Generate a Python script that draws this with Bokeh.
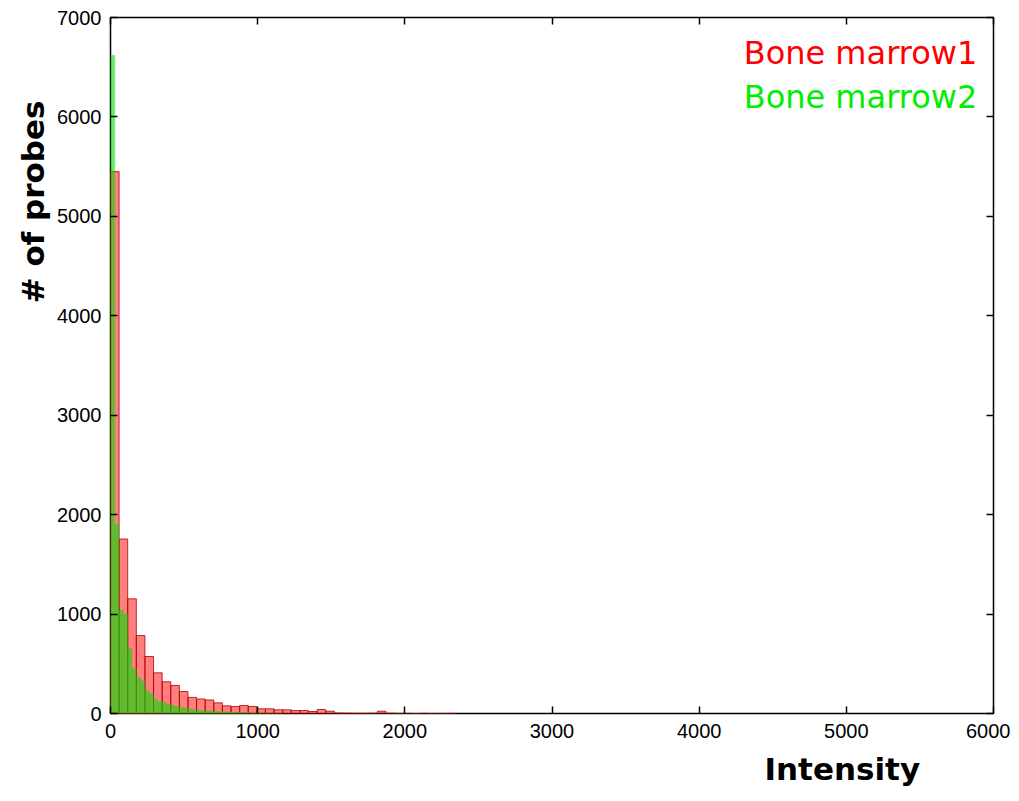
import numpy as np
from bokeh.plotting import figure
from bokeh.models import Range1d, LinearAxis, FixedTicker, Label, ColumnDataSource, Title
from bokeh.embed import file_html
from bokeh.resources import INLINE

# ---- data (histogram counts) ----
bm1_bin_width = 58.5
bm1_counts = [5450, 1755, 1153, 784, 573, 409, 319, 282, 221, 162,
              146, 136, 107, 77, 70, 80, 70, 47, 47, 37,
              37, 30, 30, 20, 40, 23, 5, 3, 2, 2,
              3, 23, 3, 1, 1, 0, 1, 0, 0, 1]

bm2_bin_width = 29.25
bm2_counts = [6620, 1900, 1040, 1000, 650, 450, 365, 330, 230, 200,
              140, 120, 110, 90, 80, 70, 60, 55, 45, 40,
              35, 30, 28, 25, 22, 20, 18, 16, 14, 12,
              10, 9, 8, 7, 6, 5, 4, 3, 2, 2]

x_ticks = [0, 1000, 2000, 3000, 4000, 5000, 6000]
y_ticks = [0, 1000, 2000, 3000, 4000, 5000, 6000, 7000]
series_names = ["Bone marrow1", "Bone marrow2"]
x_title = "Intensity"
y_title = "# of probes"


def hist_source(counts, width):
    c = np.array(counts, dtype=float)
    left = np.arange(len(c)) * width
    return ColumnDataSource(dict(left=left, right=left + width, top=c, bottom=np.zeros_like(c)))


p = figure(width=1010, height=795, output_backend="svg", toolbar_location=None,
           x_range=Range1d(0, 6000), y_range=Range1d(0, 7000),
           min_border_left=110, min_border_right=17, min_border_top=17, min_border_bottom=82)
p.background_fill_color = "white"
p.border_fill_color = "white"
p.grid.visible = False
p.outline_line_color = "black"
p.outline_line_width = 1.5

p.quad(left="left", right="right", top="top", bottom="bottom", source=hist_source(bm1_counts, bm1_bin_width),
       fill_color="#ff0000", fill_alpha=0.5, line_color="#b00000", line_alpha=0.8, line_width=1)
p.quad(left="left", right="right", top="top", bottom="bottom", source=hist_source(bm2_counts, bm2_bin_width),
       fill_color="#00e000", fill_alpha=0.6, line_color="#00e000", line_alpha=0.3, line_width=0.5)

font = "Liberation Sans"
for ax in (p.xaxis[0], p.yaxis[0]):
    ax.axis_line_color = None
    ax.major_tick_in = 7
    ax.major_tick_out = 0
    ax.minor_tick_line_color = None
    ax.major_tick_line_color = "black"
    ax.major_tick_line_width = 1.5
    ax.major_label_text_font = font
    ax.major_label_text_font_size = "20px"
    ax.major_label_text_color = "black"
p.xaxis[0].ticker = FixedTicker(ticks=x_ticks)
p.yaxis[0].ticker = FixedTicker(ticks=y_ticks)
p.xaxis[0].major_label_standoff = 10
p.yaxis[0].major_label_standoff = 9

for loc, ticks in (("above", x_ticks), ("right", y_ticks)):
    ax = LinearAxis(ticker=FixedTicker(ticks=ticks))
    ax.axis_line_color = None
    ax.major_tick_in = 7
    ax.major_tick_out = 0
    ax.minor_tick_line_color = None
    ax.major_tick_line_width = 1.5
    ax.major_label_overrides = {t: "" for t in ticks}
    ax.major_label_standoff = 0
    p.add_layout(ax, loc)

# axis titles (placed off-centre as in the reference)
p.add_layout(Title(text=x_title, align="left", offset=654, text_font="DejaVu Sans",
                   text_font_style="bold", text_font_size="31px", text_color="black",
                   standoff=16), "below")
p.add_layout(Title(text=y_title, align="right", offset=83, text_font="DejaVu Sans",
                   text_font_style="bold", text_font_size="31px", text_color="black",
                   standoff=8), "left")

# legend texts
p.add_layout(Label(x=5890, y=6640, text=series_names[0], text_font="DejaVu Sans",
                   text_font_size="32px", text_align="right", text_baseline="alphabetic",
                   text_color="#ff0000"))
p.add_layout(Label(x=5890, y=6205, text=series_names[1], text_font="DejaVu Sans",
                   text_font_size="32px", text_align="right", text_baseline="alphabetic",
                   text_color="#00ee00"))

open("out.html", "w").write(file_html(p, INLINE))
